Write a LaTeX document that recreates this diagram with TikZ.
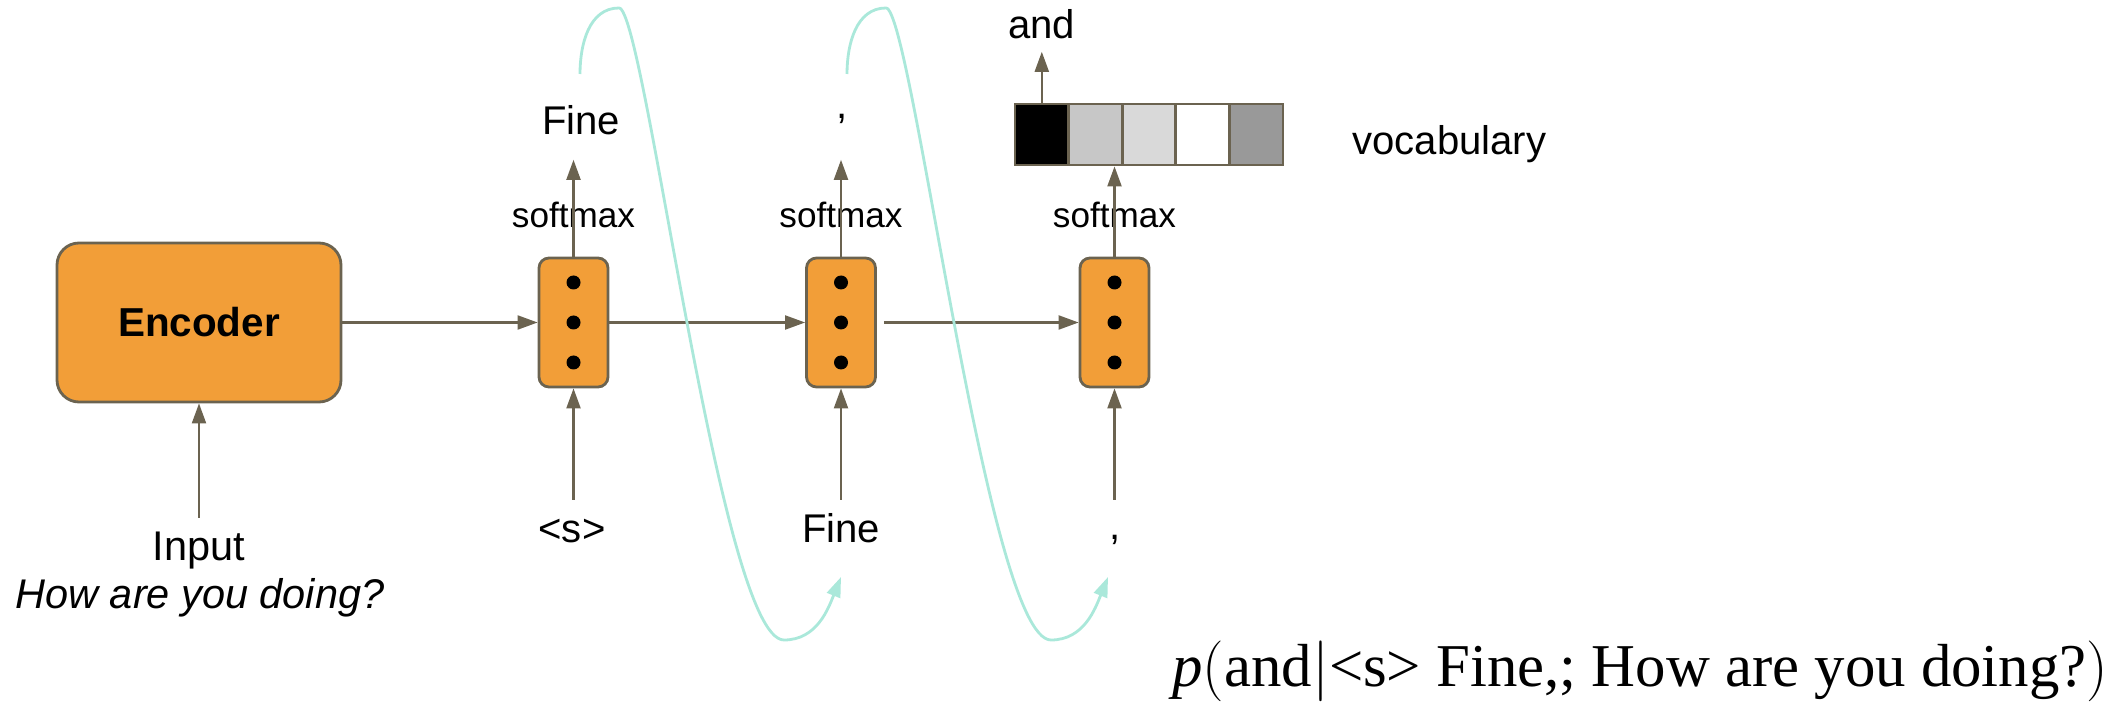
\documentclass[tikz,border=0pt]{standalone}
\usepackage{fontspec}
\setmainfont{Liberation Sans}
\newfontfamily\formulafont{Liberation Serif}
\usetikzlibrary{arrows.meta}

\definecolor{cellorange}{HTML}{F29E38}
\definecolor{edgegray}{HTML}{6B6350}
\definecolor{loopteal}{HTML}{AAE8DA}

\tikzset{
    cell/.style={draw=edgegray, fill=cellorange, line width=0.8pt, rounded corners=0.1cm,
        minimum width=0.69cm, minimum height=1.29cm, inner sep=0pt},
    flow/.style={-{Triangle[length=0.2cm, width=0.14cm]}, edgegray, line width=0.6pt},
    feed/.style={-{Triangle[length=0.2cm, width=0.14cm]}, loopteal, line width=0.8pt},
    word/.style={font=\fontsize{11.4}{13}\selectfont, anchor=base, text height=0.3cm},
    smx/.style={font=\fontsize{10}{12}\selectfont},
    vcell/.style={draw=edgegray, line width=0.8pt, minimum width=0.536cm,
        minimum height=0.61cm, inner sep=0pt}
}

\begin{document}
\begin{tikzpicture}
        \useasboundingbox (0, 0) rectangle (21.11, 7.10);
        % encoder and decoder cells
        \node[cell, minimum width=2.84cm, minimum height=1.59cm, rounded corners=0.22cm,
            font=\bfseries\fontsize{11.5}{13}\selectfont] (enc) at (1.99, 3.875) {Encoder};
        \node[cell] (c1) at (5.735, 3.875) {};
        \node[cell] (c2) at (8.41, 3.875) {};
        \node[cell] (c3) at (11.145, 3.875) {};
        \fill (c1.center) ++(0, 0.4) circle (0.07) (c1.center) circle (0.07) (c1.center) ++(0, -0.4) circle (0.07);
        \fill (c2.center) ++(0, 0.4) circle (0.07) (c2.center) circle (0.07) (c2.center) ++(0, -0.4) circle (0.07);
        \fill (c3.center) ++(0, 0.4) circle (0.07) (c3.center) circle (0.07) (c3.center) ++(0, -0.4) circle (0.07);
        \draw[flow] (enc.east) -- (c1.west);
        \draw[flow] (c1.east) -- (c2.west);
        \draw[flow, shorten <=0.07cm] (c2.east) -- (c3.west);
        % inputs
        \node[word, font=\fontsize{11.8}{13}\selectfont] (inp) at (1.99, 1.50) {Input};
        \node[word, font=\itshape\fontsize{11.8}{13}\selectfont] (query) at (2.00, 1.02) {How are you doing?};
        \node[word] (in1) at (5.72, 1.68) {<s>};
        \node[word] (in2) at (8.41, 1.68) {Fine};
        \node[word] (in3) at (11.15, 1.71) {,};
        \draw[flow] (inp.north) -- (enc.south);
        \draw[flow] (in1.north -| c1.south) -- (c1.south);
        \draw[flow] (in2.north -| c2.south) -- (c2.south);
        \draw[flow] (in1.north -| c3.south) -- (c3.south);
        % outputs
        \node[word, text height=] (out1) at (5.81, 5.75) {Fine};
        \node[word, text height=] (out2) at (8.42, 5.91) {,};
        \node[smx] (sm1) at (5.735, 4.95) {softmax};
        \node[smx] (sm2) at (8.41, 4.95) {softmax};
        \node[smx] (sm3) at (11.145, 4.95) {softmax};
        \draw[flow, shorten >=0.12cm] (c1.north) -- (c1.north |- out1.south);
        \draw[flow, shorten >=0.12cm] (c2.north) -- (c2.north |- out1.south);
        % vocabulary
        \node[vcell, fill=black] (v1) at (10.418, 5.755) {};
        \node[vcell, fill=black!22] (v2) at (10.954, 5.755) {};
        \node[vcell, fill=black!15] (v3) at (11.49, 5.755) {};
        \node[vcell, fill=white] (v4) at (12.026, 5.755) {};
        \node[vcell, fill=black!40] (v5) at (12.562, 5.755) {};
        \node[word, anchor=base west, text height=] (voc) at (13.40, 5.55) {vocabulary};
        \node[word, text height=] (pick) at (10.418, 6.71) {and};
        \draw[flow] (c3.north) -- (c3.north |- v2.south);
        \draw[flow] (v1.north) -- (pick.south);
        % feeding back the outputs
        \coordinate (fa1) at (5.80, 6.36);
        \coordinate (fb1) at (6.19, 7.02);
        \coordinate (fc1) at (7.84, 0.70);
        \coordinate (fd1) at (8.41, 1.33);
        \coordinate (fa2) at (8.47, 6.36);
        \coordinate (fb2) at (8.86, 7.02);
        \coordinate (fc2) at (10.51, 0.70);
        \coordinate (fd2) at (11.08, 1.33);
        \draw[feed] (fa1) to[out=90, in=180] (fb1) .. controls (6.45, 7.02) and (7.20, 0.70) .. (fc1) to[out=0, in=-112] (fd1);
        \draw[feed] (fa2) to[out=90, in=180] (fb2) .. controls (9.12, 7.02) and (9.87, 0.70) .. (fc2) to[out=0, in=-112] (fd2);
        % probability
        \node[anchor=base west, font=\formulafont\fontsize{17.3}{20}\selectfont] (prob) at (11.60, 0.24)
            {\textit{p}$\big($and$\big|$<s> Fine,; How are you doing?$\big)$};
    \end{tikzpicture}
\end{document}
